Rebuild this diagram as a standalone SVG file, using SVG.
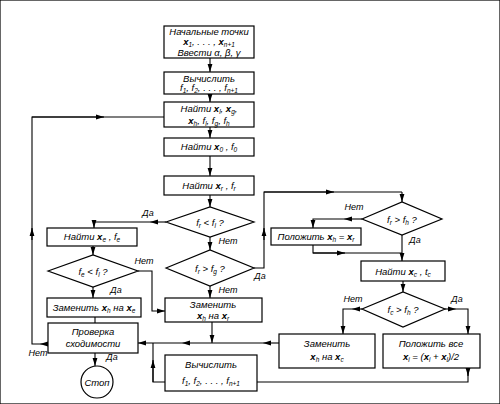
<svg xmlns="http://www.w3.org/2000/svg" width="500" height="404" viewBox="0 0 500 404">
<defs>
<marker id="a" viewBox="0 0 8 6" refX="8" refY="3" markerWidth="8" markerHeight="6" markerUnits="userSpaceOnUse" orient="auto">
<path d="M0,0.6 L8,3 L0,5.4 Z" fill="#000"/>
</marker>
<style>
text{font-family:"Liberation Sans",Arial,sans-serif;font-style:italic;font-size:9.5px;fill:#000;text-anchor:middle}
.b{font-weight:bold}
.s{font-size:6.5px;baseline-shift:-2px}
.lbl{font-size:9px}
rect,polygon,circle{fill:#fff;stroke:#000;stroke-width:1.2}
#conn path{fill:none;stroke:#000;stroke-width:1.1}
.m{marker-end:url(#a)}
</style>
</defs>
<rect width="500" height="404" fill="#fff" stroke="none"/>
<g id="conn">
<path class="m" d="M210,58 V72"/>
<path class="m" d="M210,94 V102"/>
<path class="m" d="M210,127 V138"/>
<path class="m" d="M210,156 V176"/>
<path class="m" d="M210,195 V207"/>
<path class="m" d="M210,237 V250"/>
<path class="m" d="M210,286 V298"/>
<path class="m" d="M166,222 H150"/>
<path class="m" d="M150,222 H94 V228"/>
<path class="m" d="M93,246 V255"/>
<path class="m" d="M138,271 H152 V311 H165"/>
<path class="m" d="M93,287 V298"/>
<path d="M95,317 V323"/>
<path class="m" d="M212,322 V343"/>
<path class="m" d="M279,343 H263"/>
<path class="m" d="M263,343 H182"/>
<path class="m" d="M182,343 H138"/>
<path d="M468,368 V382 H257"/>
<path class="m" d="M468,368 V376"/>
<path d="M165,382 H153 V343"/>
<path class="m" d="M153,382 V360"/>
<path class="m" d="M95,353 V366"/>
<path class="m" d="M48,344 H40"/>
<path d="M40,344 H32 V117 H164"/>
<path class="m" d="M32,240 V228"/>
<path class="m" d="M32,117 H104"/>
<path d="M254,268 H264 V192 H402"/>
<path class="m" d="M264,240 V228"/>
<path class="m" d="M264,192 H334"/>
<path class="m" d="M402,192 V202"/>
<path class="m" d="M362,219 H344"/>
<path class="m" d="M344,219 H313 V228"/>
<path d="M313,245 V253 H402"/>
<path class="m" d="M313,253 H345"/>
<path class="m" d="M402,235 V261"/>
<path class="m" d="M403,281 V292"/>
<path class="m" d="M362,309 H352"/>
<path class="m" d="M352,309 H343 V334"/>
<path class="m" d="M445,309 H456"/>
<path class="m" d="M456,309 H468 V334"/>
</g>
<g id="n1"><rect x="164" y="26" width="90" height="32"/>
<text x="209" y="34.5">Начальные точки</text>
<text x="209" y="45"><tspan class="b">x</tspan><tspan class="s">1</tspan>, . . . , <tspan class="b">x</tspan><tspan class="s">n+1</tspan></text>
<text x="209" y="56">Ввести α, β, γ</text></g>
<g id="n2"><rect x="164" y="72" width="90" height="22"/>
<text x="209" y="81.5">Вычислить</text>
<text x="209" y="91">f<tspan class="s">1</tspan>, f<tspan class="s">2</tspan>, . . . , f<tspan class="s">n+1</tspan></text></g>
<g id="n3"><rect x="164" y="102" width="90" height="25"/>
<text x="209" y="111.5">Найти <tspan class="b">x</tspan><tspan class="s">l</tspan>, <tspan class="b">x</tspan><tspan class="s">g</tspan>,</text>
<text x="209" y="123.5"><tspan class="b">x</tspan><tspan class="s">h</tspan>, f<tspan class="s">l</tspan>, f<tspan class="s">g</tspan>, f<tspan class="s">h</tspan></text></g>
<g id="n4"><rect x="164" y="138" width="90" height="18"/>
<text x="209" y="150">Найти <tspan class="b">x</tspan><tspan class="s">0</tspan> , f<tspan class="s">0</tspan></text></g>
<g id="n5"><rect x="164" y="176" width="90" height="19"/>
<text x="209" y="189">Найти <tspan class="b">x</tspan><tspan class="s">r</tspan> , f<tspan class="s">r</tspan></text></g>
<g id="d1"><polygon points="166,222 210,207 254,222 210,237"/>
<text x="210" y="226">f<tspan class="s">r</tspan> &lt; f<tspan class="s">l</tspan> ?</text></g>
<g id="d2"><polygon points="166,268 210,250 254,268 210,286"/>
<text x="210" y="272">f<tspan class="s">r</tspan> &gt; f<tspan class="s">g</tspan> ?</text></g>
<g id="n6"><rect x="165" y="298" width="97" height="24"/>
<text x="213" y="308">Заменить</text>
<text x="213" y="319"><tspan class="b">x</tspan><tspan class="s">h</tspan>  на  <tspan class="b">x</tspan><tspan class="s">r</tspan></text></g>
<g id="n7"><rect x="47" y="228" width="90" height="18"/>
<text x="92" y="240">Найти  <tspan class="b">x</tspan><tspan class="s">e</tspan> , f<tspan class="s">e</tspan></text></g>
<g id="d3"><polygon points="48,271 93,255 138,271 93,287"/>
<text x="93" y="275">f<tspan class="s">e</tspan> &lt; f<tspan class="s">l</tspan> ?</text></g>
<g id="n8"><rect x="47" y="298" width="94" height="19"/>
<text x="94" y="311">Заменить <tspan class="b">x</tspan><tspan class="s">h</tspan> на <tspan class="b">x</tspan><tspan class="s">e</tspan></text></g>
<g id="n9"><rect x="48" y="323" width="90" height="30"/>
<text x="93" y="335">Проверка</text>
<text x="93" y="347">сходимости</text></g>
<g id="n10"><circle cx="97" cy="382" r="16"/>
<text x="97" y="385.5">Стоп</text></g>
<g id="n11"><rect x="165" y="355" width="92" height="36"/>
<text x="211" y="368">Вычислить</text>
<text x="211" y="384">f<tspan class="s">1</tspan>, f<tspan class="s">2</tspan>, . . . , f<tspan class="s">n+1</tspan></text></g>
<g id="d4"><polygon points="362,219 402,202 442,219 402,235"/>
<text x="402" y="223">f<tspan class="s">r</tspan> &gt; f<tspan class="s">h</tspan> ?</text></g>
<g id="n12"><rect x="271" y="228" width="90" height="17"/>
<text x="316" y="240">Положить <tspan class="b">x</tspan><tspan class="s">h</tspan> = <tspan class="b">x</tspan><tspan class="s">r</tspan></text></g>
<g id="n13"><rect x="361" y="261" width="84" height="20"/>
<text x="403" y="274.5">Найти <tspan class="b">x</tspan><tspan class="s">c</tspan> , t<tspan class="s">c</tspan></text></g>
<g id="d5"><polygon points="362,309 403,292 445,309 403,327"/>
<text x="403" y="313">f<tspan class="s">c</tspan> &gt; f<tspan class="s">h</tspan> ?</text></g>
<g id="n14"><rect x="279" y="334" width="96" height="34"/>
<text x="327" y="347">Заменить</text>
<text x="327" y="360"><tspan class="b">x</tspan><tspan class="s">h</tspan>  на  <tspan class="b">x</tspan><tspan class="s">c</tspan></text></g>
<g id="n15"><rect x="383" y="334" width="97" height="34"/>
<text x="431" y="347">Положить все</text>
<text x="431" y="360"><tspan class="b">x</tspan><tspan class="s">i</tspan> = (<tspan class="b">x</tspan><tspan class="s">i</tspan> + <tspan class="b">x</tspan><tspan class="s">l</tspan>)/2</text></g>
<g id="labels">
<text class="lbl" x="148" y="216">Да</text>
<text class="lbl" x="228" y="244">Нет</text>
<text class="lbl" x="228" y="293">Нет</text>
<text class="lbl" x="144" y="264">Нет</text>
<text class="lbl" x="116" y="293">Да</text>
<text class="lbl" x="112" y="360">Да</text>
<text class="lbl" x="38" y="356">Нет</text>
<text class="lbl" x="260" y="279">Да</text>
<text class="lbl" x="354" y="210">Нет</text>
<text class="lbl" x="415" y="243">Да</text>
<text class="lbl" x="353" y="302">Нет</text>
<text class="lbl" x="457" y="302">Да</text>
</g>
</svg>
